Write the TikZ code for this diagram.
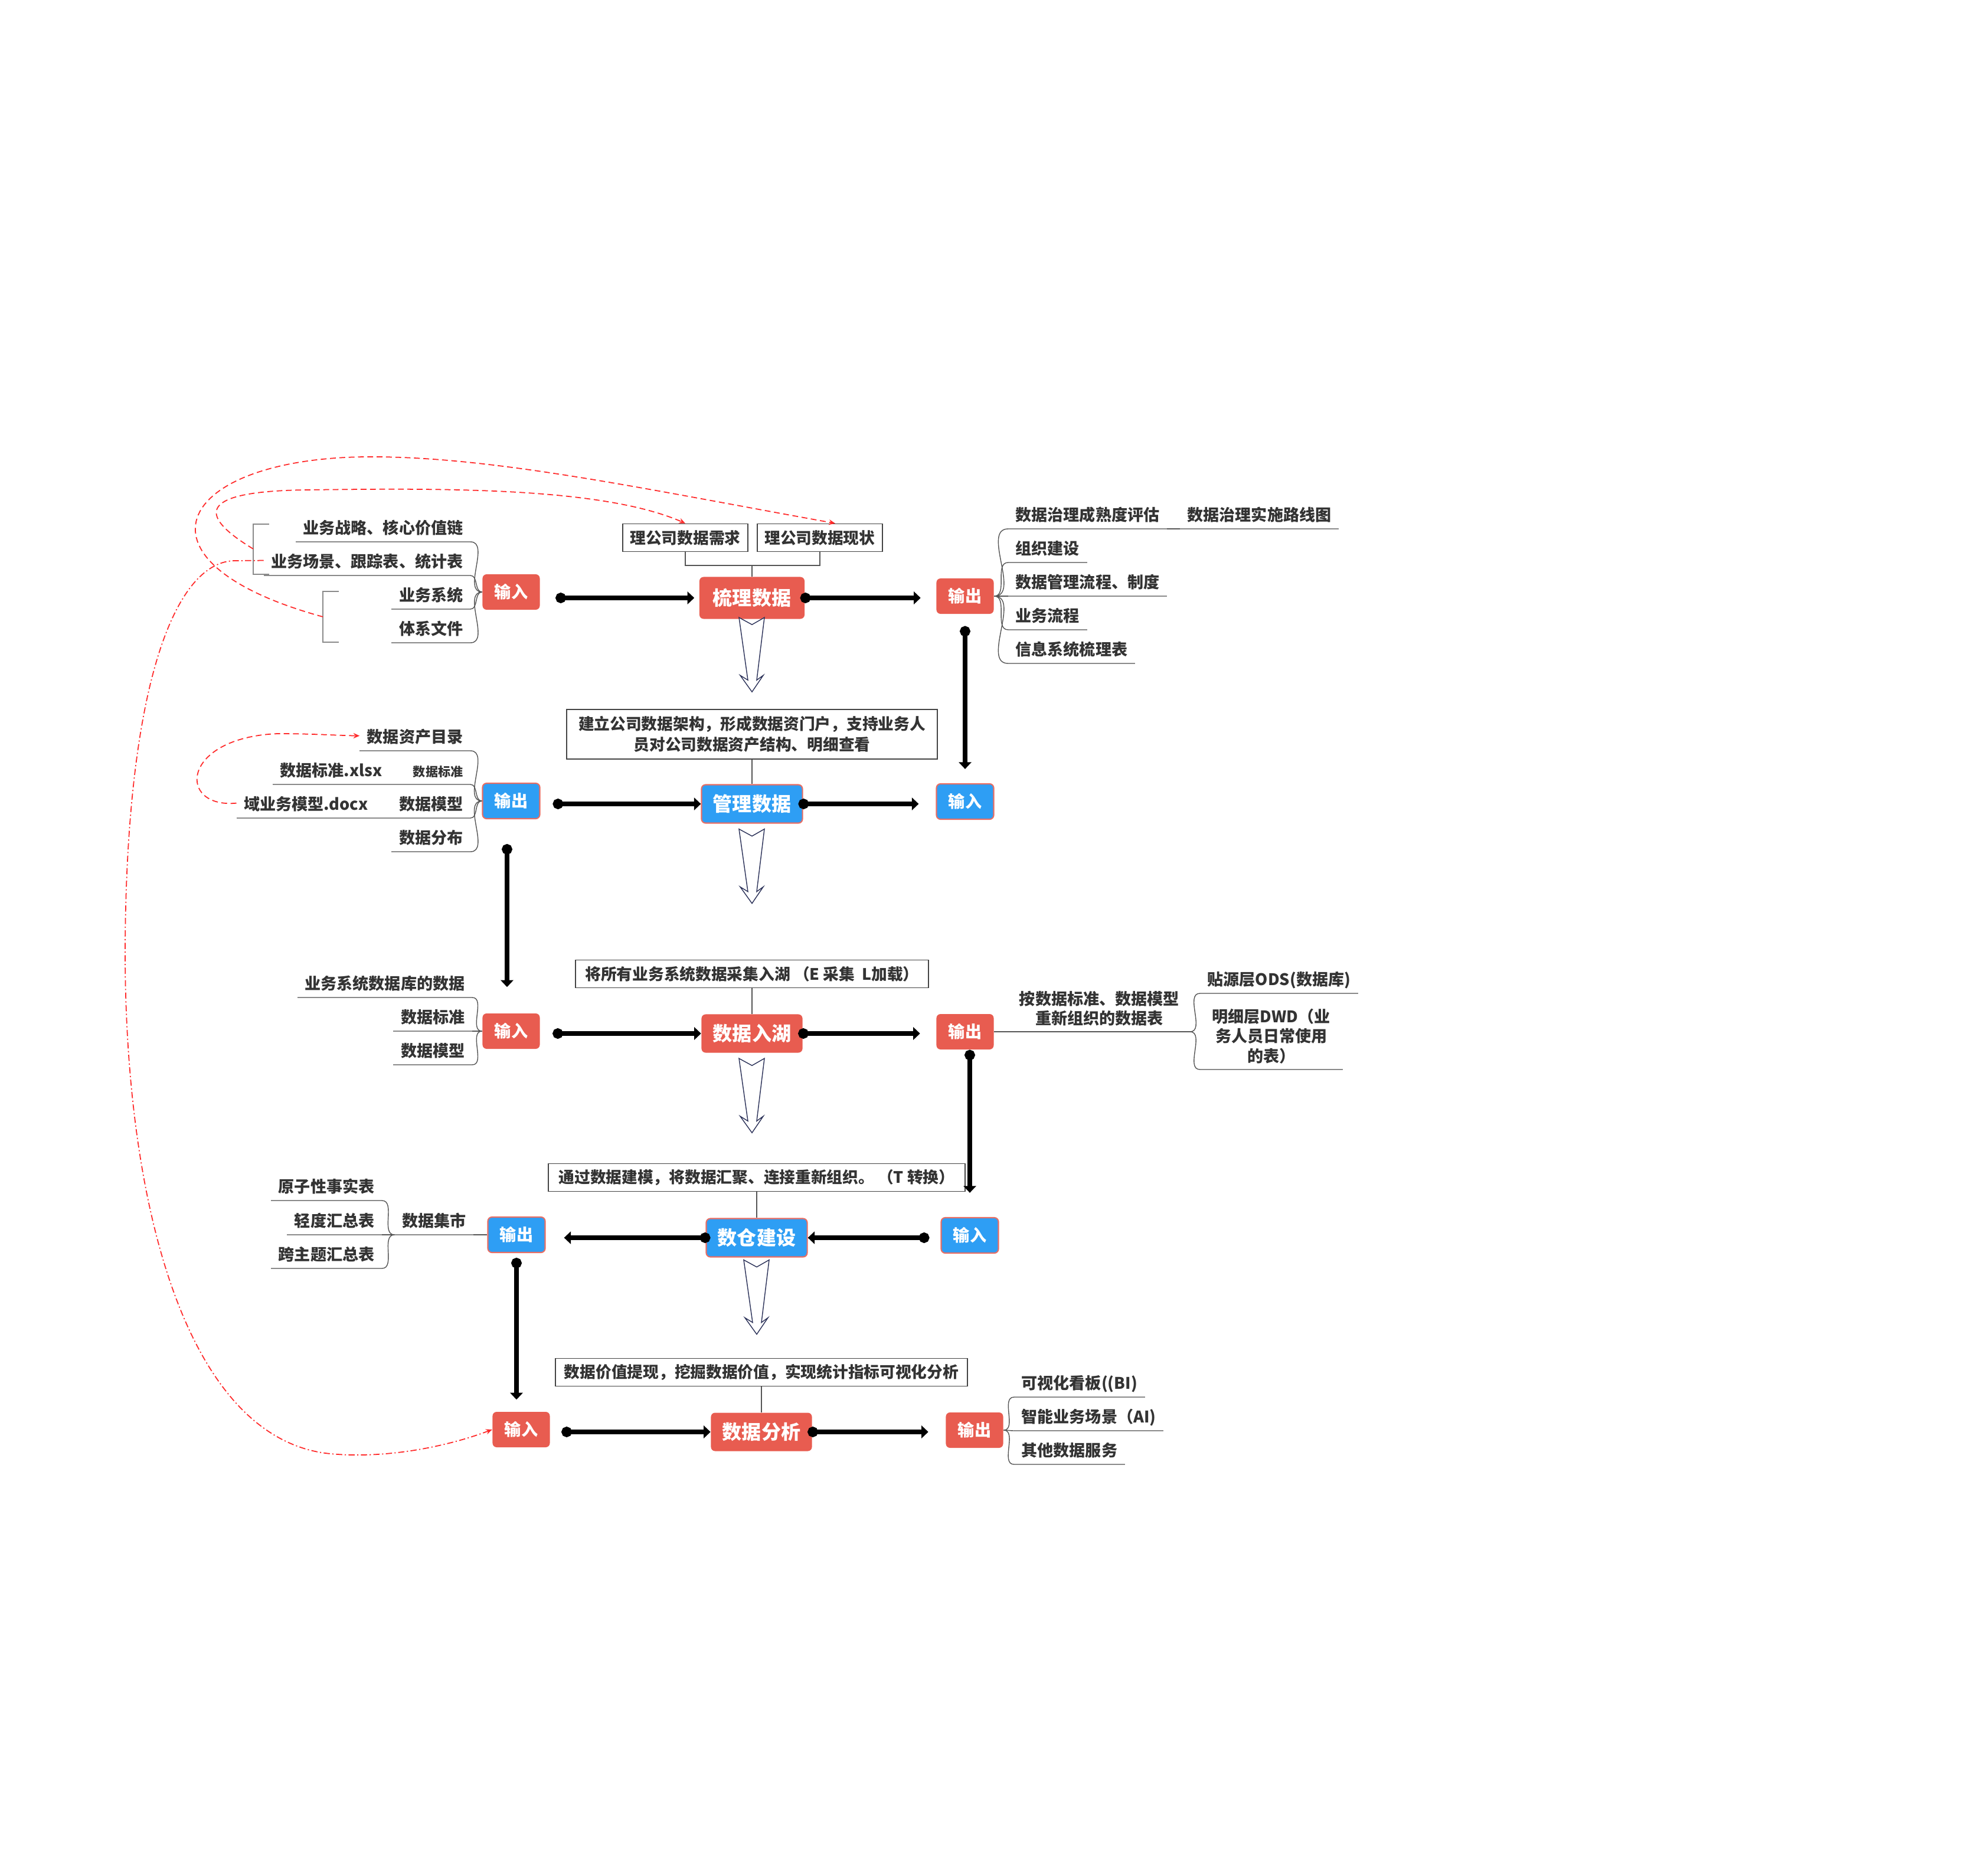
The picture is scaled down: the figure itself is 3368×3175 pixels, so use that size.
\documentclass[tikz,border=0pt]{standalone}
\usepackage{fontspec}
\setmainfont{Noto Sans CJK SC}
\usepackage{xcolor}
\usetikzlibrary{positioning,calc,arrows.meta}
\definecolor{boxred}{HTML}{E85C50}
\definecolor{boxblue}{HTML}{2E9EF4}
\definecolor{boxedge}{HTML}{E86E64}
\definecolor{txtgray}{HTML}{333333}
\definecolor{notegray}{HTML}{444444}
\definecolor{linegray}{HTML}{555555}
\definecolor{ulgray}{HTML}{8A8A8A}
\definecolor{linkred}{HTML}{FF2A2A}
\definecolor{arrnavy}{HTML}{2B3158}

\begin{document}
\begin{tikzpicture}[x=0.01cm, y=-0.01cm, font=\bfseries\fontsize{7.7}{9.5}\selectfont, text=txtgray,
    stepred/.style={fill=boxred, text=white, rounded corners=2pt, minimum width=1.71cm,
                    minimum height=0.65cm, inner sep=0pt, font=\bfseries\fontsize{9.4}{11}\selectfont},
    stepblue/.style={stepred, fill=boxblue, draw=boxedge, line width=0.6pt},
    iored/.style={fill=boxred, text=white, rounded corners=2pt, minimum width=0.97cm,
                  minimum height=0.6cm, inner sep=0pt, font=\bfseries\fontsize{8}{10}\selectfont},
    ioblue/.style={iored, fill=boxblue, draw=boxedge, line width=0.6pt},
    note/.style={draw=notegray, line width=0.5pt, fill=white, inner sep=0pt, align=center,
                 minimum height=0.47cm, font=\bfseries\fontsize{7.6}{10}\selectfont},
    uline/.style={draw=ulgray, line width=0.7pt},
    item/.style={inner xsep=3.4pt, inner ysep=3.7pt, text depth=0pt,
                 append after command={(\tikzlastnode.south west) edge[uline] (\tikzlastnode.south east)}},
    itemml/.style={inner xsep=3.4pt, inner ysep=2.6pt, align=center,
                   append after command={(\tikzlastnode.south west) edge[uline] (\tikzlastnode.south east)}},
    tag/.style={inner xsep=5pt, inner ysep=2.6pt, align=center},
    branch/.style={draw=linegray, line width=0.4pt},
    bracket/.style={draw=ulgray, line width=0.6pt},
    fat/.style={draw=black, line width=2.2pt, {Circle[length=5pt]}-{Triangle[length=3.3pt,width=6pt]}},
    reddash/.style={draw=linkred, line width=0.5pt, dash pattern=on 2.8pt off 1.7pt,
                    -{Stealth[length=3pt,width=2.6pt]}},
    reddashdot/.style={reddash, dash pattern=on 3pt off 1.2pt on 0.6pt off 1.2pt},
    hollowdown/.pic={\draw[draw=arrnavy, line width=0.4pt, fill=white] (-22,0) -- (0,12) -- (21,0)
                     -- (8,106) -- (19,98) -- (0,126) -- (-20,98) -- (-7,106) -- cycle;}]
  \useasboundingbox (0,0) rectangle (3368,3175);

  % --- 梳理数据
  \node[stepred, minimum width=1.78cm, minimum height=0.71cm] (s1) at (1274,1013) {梳理数据};
  \node[iored] (in1) at (866,1003) {输入};
  \node[iored] (out1) at (1635,1010) {输出};
  \node[note, minimum width=2.12cm] (need) at (1161,911) {理公司数据需求};
  \node[note, minimum width=2.12cm, right=0.14cm of need] (now) {理公司数据现状};
  \coordinate (j1) at (1274,958);
  \draw[branch] (need.south) |- (j1) -| (now.south);
  \draw[branch] (j1) -- (s1.north);
  \draw[fat, shorten <=2.6mm, shorten >=0.8mm] (in1.east |- s1.west) -- (s1.west);
  \draw[fat, shorten <=-0.8mm, shorten >=2.6mm] (s1.east) -- (s1.east -| out1.west);
  \pic at ($(s1.south)+(0,-3)$) {hollowdown};

  \node[item, anchor=south east] (b1a) at (797,918) {业务战略、核心价值链};
  \node[item, anchor=south east] (b1b) at (797,975) {业务场景、跟踪表、统计表};
  \node[item, anchor=south east] (b1c) at (797,1032) {业务系统};
  \node[item, anchor=south east] (b1d) at (797,1089) {体系文件};
  \draw[branch] (in1.west) to[out=180,in=0] (b1a.south east);
  \draw[branch] (in1.west) to[out=180,in=0] (b1b.south east);
  \draw[branch] (in1.west) to[out=180,in=0] (b1c.south east);
  \draw[branch] (in1.west) to[out=180,in=0] (b1d.south east);
  \draw[bracket] (456,888) -| (429,973) -- (456,973);
  \draw[bracket] (574,1002) -| (547,1088) -- (574,1088);
  \coordinate (k1) at (429,930);
  \coordinate (k2) at (547,1045);

  \node[item, anchor=south west] (r1a) at (1708,896) {数据治理成熟度评估};
  \node[item, anchor=south west] (r1a2) at (1999,896) {数据治理实施路线图};
  \node[item, anchor=south west] (r1b) at (1708,953) {组织建设};
  \node[item, anchor=south west] (r1c) at (1708,1010) {数据管理流程、制度};
  \node[item, anchor=south west] (r1d) at (1708,1067) {业务流程};
  \node[item, anchor=south west] (r1e) at (1708,1124) {信息系统梳理表};
  \draw[branch] (r1a.south east) -- (r1a2.south west);
  \draw[branch] (out1.east) to[out=0,in=180] (r1a.south west);
  \draw[branch] (out1.east) to[out=0,in=180] (r1b.south west);
  \draw[branch] (out1.east) to[out=0,in=180] (r1c.south west);
  \draw[branch] (out1.east) to[out=0,in=180] (r1d.south west);
  \draw[branch] (out1.east) to[out=0,in=180] (r1e.south west);

  % --- 管理数据
  \node[stepblue] (s2) at (1274,1362) {管理数据};
  \node[ioblue] (out2) at (866,1357) {输出};
  \node[ioblue] (in2) at (1635,1358) {输入};
  \node[note, minimum width=6.28cm, minimum height=0.84cm] (d2) at (1274,1244)
    {建立公司数据架构，形成数据资门户，支持业务人\\员对公司数据资产结构、明细查看};
  \draw[branch] (d2.south) -- (s2.north);
  \draw[fat, shorten <=2.1mm] (out2.east |- s2.west) -- (s2.west);
  \draw[fat, shorten <=-0.8mm, shorten >=2.9mm] (s2.east) -- (s2.east -| in2.west);
  \pic at ($(s2.south)+(0,9)$) {hollowdown};
  \draw[fat, shorten <=2mm, shorten >=2.4mm] (out1.south) -- (out1.south |- in2.north);

  \node[item, anchor=south east] (b2a) at (797,1272) {数据资产目录};
  \node[item, anchor=south east, font=\bfseries\fontsize{6}{7}\selectfont] (b2b) at (797,1329) {数据标准};
  \node[item, anchor=south east] (b2b1) at (660,1329) {数据标准.xlsx};
  \node[item, anchor=south east] (b2c) at (797,1386) {数据模型};
  \node[item, anchor=south east] (b2c1) at (636,1386) {域业务模型.docx};
  \node[item, anchor=south east] (b2d) at (797,1443) {数据分布};
  \draw[uline] (b2b1.south east) -- (b2b.south west);
  \draw[uline] (b2c1.south east) -- (b2c.south west);
  \draw[branch] (out2.west) to[out=180,in=0] (b2a.south east);
  \draw[branch] (out2.west) to[out=180,in=0] (b2b.south east);
  \draw[branch] (out2.west) to[out=180,in=0] (b2c.south east);
  \draw[branch] (out2.west) to[out=180,in=0] (b2d.south east);

  % --- 数据入湖
  \node[stepred] (s3) at (1274,1751) {数据入湖};
  \node[iored] (in3) at (866,1747) {输入};
  \node[iored] (out3) at (1635,1748) {输出};
  \node[note, minimum width=5.98cm] (d3) at (1274,1650) {将所有业务系统数据采集入湖 （E 采集\ \ L加载）};
  \draw[branch] (d3.south) -- (s3.north);
  \draw[fat, shorten <=2.1mm] (in3.east |- s3.west) -- (s3.west);
  \draw[fat, shorten <=-0.8mm, shorten >=2.7mm] (s3.east) -- (s3.east -| out3.west);
  \pic at ($(s3.south)+(0,9)$) {hollowdown};
  \draw[fat, shorten <=4.2mm, shorten >=4.4mm] ([xshift=-0.7mm]out2.south) -- ([xshift=-0.7mm]out2.south |- in3.north);

  \node[item, anchor=south east] (b3a) at (800,1690) {业务系统数据库的数据};
  \node[item, anchor=south east] (b3b) at (800,1747) {数据标准};
  \node[item, anchor=south east] (b3c) at (800,1804) {数据模型};
  \draw[branch] (in3.west) to[out=180,in=0] (b3a.south east);
  \draw[branch] (in3.west) to[out=180,in=0] (b3b.south east);
  \draw[branch] (in3.west) to[out=180,in=0] (b3c.south east);

  \node[tag, anchor=south east] (r3) at (2016,1748) {按数据标准、数据模型\\重新组织的数据表};
  \node[item, anchor=south west] (r3a) at (2033,1683) {贴源层ODS(数据库)};
  \node[itemml, anchor=south west, minimum width=2.4cm] (r3b) at (2033,1812) {明细层DWD（业\\务人员日常使用\\的表）};
  \draw[branch] (out3.east) -- (r3.south east);
  \draw[branch] (r3.south east) to[out=0,in=180] (r3a.south west);
  \draw[branch] (r3.south east) to[out=0,in=180] (r3b.south west);

  % --- 数仓建设
  \node[stepblue] (s4) at (1282,2097) {数仓建设};
  \node[ioblue] (out4) at (875,2092) {输出};
  \node[ioblue] (in4) at (1643,2093) {输入};
  \node[note, minimum width=7.05cm] (d4) at (1282,1995) {通过数据建模，将数据汇聚、连接重新组织。 （T 转换）};
  \draw[branch] (d4.south) -- (s4.north);
  \draw[fat, shorten <=-0.8mm, shorten >=3.1mm] (s4.west) -- (s4.west -| out4.east);
  \draw[fat, shorten <=1.9mm] (in4.west |- s4.east) -- (s4.east);
  \pic at ($(s4.south)+(0,4)$) {hollowdown};
  \draw[fat, shorten >=4.1mm] (out3.south -| in4.north) -- (in4.north);

  \node[item, anchor=south east] (b4) at (802,2092) {数据集市};
  \node[item, anchor=south east] (b4a) at (647,2034) {原子性事实表};
  \node[item, anchor=south east] (b4b) at (647,2092) {轻度汇总表};
  \node[item, anchor=south east] (b4c) at (647,2149) {跨主题汇总表};
  \draw[branch] (out4.west) -- (b4.south east);
  \draw[branch] (b4.south west) to[out=180,in=0] (b4a.south east);
  \draw[branch] (b4.south west) to[out=180,in=0] (b4b.south east);
  \draw[branch] (b4.south west) to[out=180,in=0] (b4c.south east);

  % --- 数据分析
  \node[stepred] (s5) at (1290,2426) {数据分析};
  \node[iored] (in5) at (883,2422) {输入};
  \node[iored] (out5) at (1651,2423) {输出};
  \node[note, minimum width=6.98cm] (d5) at (1290,2325) {数据价值提现，挖掘数据价值，实现统计指标可视化分析};
  \draw[branch] (d5.south) -- (s5.north);
  \draw[fat, shorten <=1.9mm] (in5.east |- s5.west) -- (s5.west);
  \draw[fat, shorten <=-0.8mm, shorten >=2.9mm] (s5.east) -- (s5.east -| out5.west);
  \draw[fat, shorten <=0.8mm, shorten >=2mm] (out4.south) -- (out4.south |- in5.north);

  \node[item, anchor=south west] (r5a) at (1718,2367) {可视化看板((BI)};
  \node[item, anchor=south west] (r5b) at (1718,2424) {智能业务场景（AI)};
  \node[item, anchor=south west] (r5c) at (1718,2481) {其他数据服务};
  \draw[branch] (out5.east) to[out=0,in=180] (r5a.south west);
  \draw[branch] (out5.east) to[out=0,in=180] (r5b.south west);
  \draw[branch] (out5.east) to[out=0,in=180] (r5c.south west);

  % --- red links
  \draw[reddash] (k2) .. controls (200,950) and (300,770) .. (640,774)
    .. controls (850,776) and (1100,830) .. ($(now.north)+(26,0)$);
  \draw[reddash] (k1) .. controls (330,870) and (340,832) .. (520,830)
    .. controls (750,827) and (1020,825) .. (need.north);
  \draw[reddash] (b2c1.west) .. controls (300,1370) and (305,1250) .. (470,1243)
    .. controls (530,1243) and (570,1246) .. (b2a.west);
  \draw[reddashdot] (b1b.west) -- (400,950) .. controls (300,948) and (215,1150) .. (212,1600)
    .. controls (210,2050) and (320,2440) .. (560,2463) .. controls (656,2472) and (760,2450) .. (in5.west);
\end{tikzpicture}
\end{document}
